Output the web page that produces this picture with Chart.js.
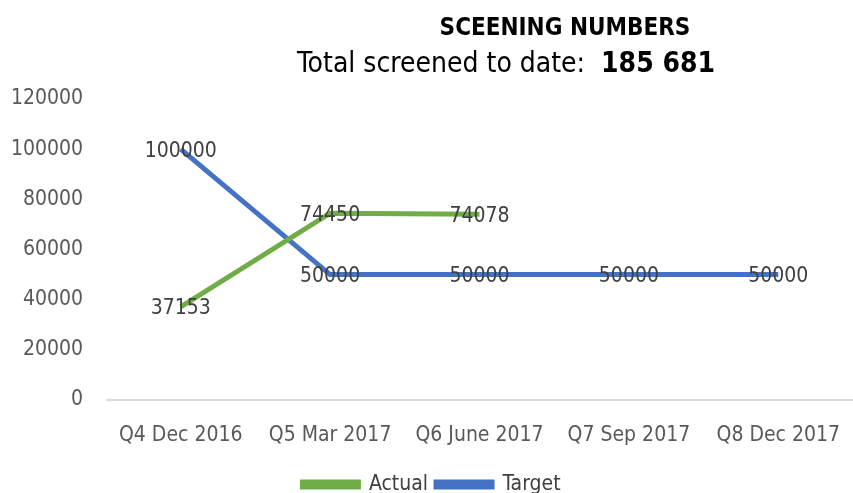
<!DOCTYPE html>
<html>
<head>
<meta charset="utf-8">
<script src="https://cdn.jsdelivr.net/npm/chart.js@4/dist/chart.umd.min.js"></script>
<style>
  html, body { margin: 0; padding: 0; background: #fff; }
  #wrap { width: 853px; height: 493px; }
</style>
</head>
<body>
<div id="wrap"><canvas id="test"></canvas></div>
<script>
const categories = ['Q4 Dec 2016', 'Q5 Mar 2017', 'Q6 June 2017', 'Q7 Sep 2017', 'Q8 Dec 2017'];
const actual = [37153, 74450, 74078, null, null];
const target = [100000, 50000, 50000, 50000, 50000];
const titleText = 'SCEENING NUMBERS';
const subtitleText = 'Total screened to date:  ';
const totalText = '185 681';

const FONT = "'DejaVu Sans Condensed', 'Liberation Sans Narrow', sans-serif";

// values drawn in the middle of each point, like the original
const pointLabels = {
    id: 'pointLabels',
    afterDatasetsDraw(chart) {
        const ctx = chart.ctx;
        ctx.save();
        ctx.font = '21px ' + FONT;
        ctx.fillStyle = '#404040';
        ctx.textAlign = 'center';
        ctx.textBaseline = 'middle';
        chart.data.datasets.forEach((ds, i) => {
            chart.getDatasetMeta(i).data.forEach((pt, j) => {
                if (ds.data[j] == null) return;
                ctx.fillText(String(ds.data[j]), pt.x, pt.y + 2);
            });
        });
        ctx.restore();
    }
};

const titles = {
    id: 'titles',
    afterDraw(chart) {
        const ctx = chart.ctx;
        ctx.save();
        ctx.fillStyle = '#000';
        ctx.textBaseline = 'middle';
        ctx.textAlign = 'center';
        ctx.font = 'bold 24px ' + FONT;
        ctx.fillText(titleText, 565, 29);
        ctx.font = '28px ' + FONT;
        const w1 = ctx.measureText(subtitleText).width;
        ctx.font = 'bold 28px ' + FONT;
        const w2 = ctx.measureText(totalText).width;
        let x = 506 - (w1 + w2) / 2;
        ctx.textAlign = 'left';
        ctx.font = '28px ' + FONT;
        ctx.fillText(subtitleText, x, 65);
        ctx.font = 'bold 28px ' + FONT;
        ctx.fillText(totalText, x + w1, 65);
        ctx.restore();
    }
};

new Chart(
    document.getElementById('test'),
    {
        type: 'line',
        data: {
            labels: categories,
            datasets: [
                {
                    label: 'Actual',
                    data: actual,
                    borderColor: '#70AD47',
                    backgroundColor: '#70AD47',
                    borderWidth: 5,
                    pointRadius: 0,
                    fill: false,
                },
                {
                    label: 'Target',
                    data: target,
                    borderColor: '#4472C4',
                    backgroundColor: '#4472C4',
                    borderWidth: 5,
                    pointRadius: 0,
                    fill: false,
                }
            ]
        },
        options: {
            responsive: true,
            maintainAspectRatio: false,
            animation: false,
            layout: { padding: { top: 99, right: -10, bottom: -12, left: 0 } },
            plugins: {
                tooltip: { enabled: false },
                legend: {
                    position: 'bottom',
                    labels: {
                        boxWidth: 56,
                        boxHeight: 5,
                        padding: 8,
                        color: '#404040',
                        font: { family: FONT, size: 21 }
                    }
                }
            },
            scales: {
                x: {
                    offset: true,
                    grid: { display: false },
                    border: { display: false },
                    afterFit(scale) {
                        scale.height = 66;
                        scale.paddingLeft = 0;
                        scale.paddingRight = 0;
                    },
                    ticks: {
                        color: '#595959',
                        padding: 15,
                        maxRotation: 0,
                        autoSkip: false,
                        font: { family: FONT, size: 21 }
                    }
                },
                y: {
                    min: 0,
                    max: 120000,
                    afterFit(scale) { scale.width = 106; },
                    border: { display: false },
                    grid: {
                        drawTicks: false,
                        color: (c) => c.tick && c.tick.value === 0 ? '#d9d9d9' : 'rgba(0,0,0,0)',
                        lineWidth: 2
                    },
                    ticks: {
                        stepSize: 20000,
                        color: '#595959',
                        padding: 23,
                        callback: (v) => String(v),
                        font: { family: FONT, size: 21 }
                    }
                }
            }
        },
        plugins: [pointLabels, titles]
    }
);
</script>
</body>
</html>
